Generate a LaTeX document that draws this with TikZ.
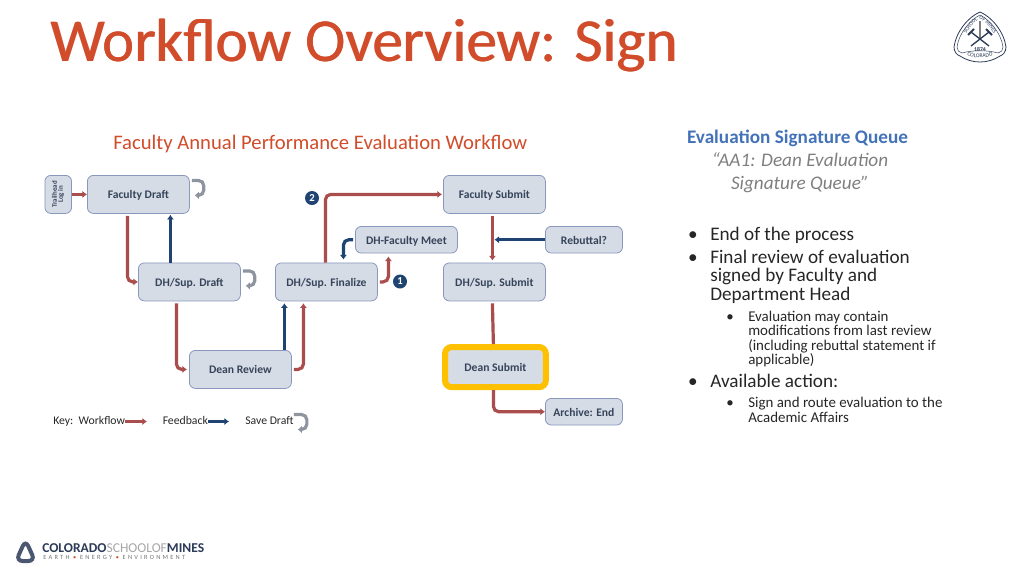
\documentclass[tikz,border=0pt]{standalone}
\usepackage{fontspec}
\setmainfont{Carlito}
\usepackage{xcolor}
\usetikzlibrary{arrows.meta,decorations.text}
\definecolor{titlered}{HTML}{D04C2A}
\definecolor{flowred}{HTML}{A94E4C}
\definecolor{backblue}{HTML}{1F4472}
\definecolor{boxfill}{HTML}{D5DCE6}
\definecolor{boxline}{HTML}{8A97BC}
\definecolor{boxtext}{HTML}{36445A}
\definecolor{savegray}{HTML}{8E959E}
\definecolor{headblue}{HTML}{4472B8}
\definecolor{bodygray}{HTML}{262626}
\definecolor{italgray}{HTML}{7F7F7F}
\definecolor{minesblue}{HTML}{2B3A57}
\definecolor{highlight}{HTML}{FFC000}
\tikzset{
	flowbox/.style={draw=boxline,fill=boxfill,rounded corners=4.5,line width=0.6pt,inner sep=0pt,
		text=boxtext,font=\fontsize{8.7}{10}\selectfont\bfseries,text height=6.5pt,text depth=0pt,anchor=north west},
	workflow/.style={draw=flowred,line width=2.4pt,rounded corners=4,-{Latex[length=3.5pt,width=5.5pt]}},
	feedback/.style={draw=backblue,line width=2.4pt,rounded corners=4,-{Latex[length=3.5pt,width=5.5pt]}},
	savedraft/.style={draw=savegray,line width=2.4pt,rounded corners=4,-{Latex[length=3pt,width=6pt]}},
	badge/.style={circle,fill=backblue,text=white,inner sep=0pt,minimum size=10.5pt,font=\fontsize{8}{8}\selectfont\bfseries},
	keytext/.style={anchor=west,inner sep=0pt,text=bodygray,text height=6pt,text depth=2pt,font=\fontsize{8.8}{10}\selectfont},
	panel/.style={anchor=base west,inner sep=0pt,text=bodygray,align=left},
	bigtext/.style={font=\fontsize{14.4}{13.9}\selectfont},
	smalltext/.style={font=\fontsize{11.2}{10.8}\selectfont},
}
\begin{document}
\begin{tikzpicture}[x=0.75pt,y=-0.75pt]
	\useasboundingbox (0,0) rectangle (1024,576);
	% heading
	\node[anchor=base west,inner sep=0pt,text=titlered,font=\fontsize{45.8}{50}\selectfont] (titleb) at (50.8,61) {Workflow Overview: Sign};
	\node[anchor=base west,inner sep=0pt,text=titlered,font=\fontsize{45.8}{50}\selectfont] (title) at (50,61) {Workflow Overview: Sign};
	\node[anchor=west,inner sep=0pt,text=titlered,font=\fontsize{15.5}{17}\selectfont] (subtitle) at (113,144) {Faculty Annual Performance Evaluation Workflow};
	% boxes
	\node[flowbox,minimum width=20pt,minimum height=28.5pt,text height=,text depth=,font=\fontsize{5.2}{6}\selectfont\bfseries] (login) at (44.5,175)
		{\rotatebox{90}{\begin{tabular}{@{}c@{}}Trailhead\\[-1.5pt]Log in\end{tabular}}};
	\node[flowbox,minimum width=76.5pt,minimum height=28.5pt] (fdraft) at (87,175) {Faculty Draft};
	\node[flowbox,minimum width=76.5pt,minimum height=28.5pt] (dhdraft) at (138,262.5) {DH/Sup. Draft};
	\node[flowbox,minimum width=76.5pt,minimum height=28.5pt] (dreview) at (189,350) {Dean Review};
	\node[flowbox,minimum width=76.5pt,minimum height=28.5pt] (dhfinal) at (275,262.5) {DH/Sup. Finalize};
	\node[flowbox,minimum width=76.5pt,minimum height=20pt] (meet) at (355,226) {DH-Faculty Meet};
	\node[flowbox,minimum width=76.5pt,minimum height=28.5pt] (fsubmit) at (443,175) {Faculty Submit};
	\node[flowbox,minimum width=57.8pt,minimum height=20pt] (rebuttal) at (545,226) {Rebuttal?};
	\node[flowbox,minimum width=76.5pt,minimum height=28.5pt] (dhsubmit) at (443,262.5) {DH/Sup. Submit};
	\node[flowbox,minimum width=75pt,minimum height=29.5pt,draw=none] (dsubmit) at (445,347) {Dean Submit};
	\draw[draw=highlight,line width=4.5pt,rounded corners=5] (dsubmit.north west) rectangle (dsubmit.south east);
	\node[flowbox,minimum width=57.8pt,minimum height=20pt] (archive) at (545,398) {Archive: End};
	% workflow arrows
	\draw[workflow] (login.east) -- (fdraft.west);
	\draw[workflow] ([shift={(-11,2)}]fdraft.south) |- (dhdraft.west);
	\draw[workflow] ([shift={(-13,2)}]dhdraft.south) |- ([shift={(-2,0)}]dreview.west);
	\draw[workflow] ([shift={(2,0)}]dreview.east) -| ([shift={(-23,2)}]dhfinal.south);
	\draw[workflow] ([shift={(-1,0)}]dhfinal.north) |- ([shift={(-1,0)}]fsubmit.west);
	\draw[workflow] ([shift={(2,0)}]dhfinal.east) -| ([shift={(-18,3)}]meet.south);
	\draw[workflow] ([shift={(-2,2)}]fsubmit.south) -- ([shift={(-2,-2)}]dhsubmit.north);
	\draw[workflow,-] ([shift={(-2,2)}]dhsubmit.south) -- ([shift={(-2,-3)}]dsubmit.north);
	\draw[workflow] ([shift={(-2,3)}]dsubmit.south) |- (archive.west);
	% feedback arrows
	\draw[feedback] ([shift={(-19,0)}]dhdraft.north) -- ([shift={(32,1)}]fdraft.south);
	\draw[feedback] ([shift={(44,0)}]dreview.north) -- ([shift={(-42,2)}]dhfinal.south);
	\draw[feedback] ([shift={(-2,0)}]meet.west) -| ([shift={(17,-3)}]dhfinal.north);
	\draw[feedback] (rebuttal.west) -- (rebuttal.west -| dhsubmit.north);
	% save draft hooks
	\draw[savedraft] ([shift={(2,-14)}]fdraft.east) -- ++(12,0) -- ++(0,15) -- ++(-9,0);
	\draw[savedraft] ([shift={(2,-11)}]dhdraft.east) -- ++(12,0) -- ++(0,15) -- ++(-9,0);
	% badges
	\node[badge] (one) at (400,281.5) {1};
	\node[badge] (two) at (312,198) {2};
	% key
	\node[keytext] (keyflow) at (53,421.5) {Key:\ \ Workflow};
	\coordinate (keyflowend) at (147,421.5);
	\draw[workflow,line width=2pt] (keyflow.east) -- (keyflowend);
	\node[keytext] (keyback) at (162.5,421.5) {Feedback};
	\coordinate (keybackend) at (229,421.5);
	\draw[feedback,line width=2pt] (keyback.east) -- (keybackend);
	\node[keytext] (keysave) at (245,421.5) {Save Draft};
	\draw[savedraft] ([shift={(0,-7)}]keysave.east) -- ++(13,0) -- ++(0,15) -- ++(-9,0);
	% right text
	\node[anchor=center,inner sep=0pt,text=headblue,font=\fontsize{14.4}{16}\selectfont\bfseries] (qhead) at (797.5,138) {Evaluation Signature Queue};
	\node[anchor=base,inner sep=0pt,align=center,text=italgray,font=\fontsize{14.4}{17.2}\selectfont\itshape] (qname) at (800,189.5)
		{“AA1: Dean Evaluation\\Signature Queue”};
	\node[panel,bigtext] (bulleta) at (710,240) {End of the process};
	\node[panel,bigtext] (bulletb) at (710,300.5) {Final review of evaluation\\signed by Faculty and\\Department Head};
	\node[panel,smalltext] (bulletc) at (748,364.5) {Evaluation may contain\\modifications from last review\\(including rebuttal statement if\\applicable)};
	\node[panel,bigtext] (bulletd) at (710,387) {Available action:};
	\node[panel,smalltext] (bullete) at (748,422) {Sign and route evaluation to the\\Academic Affairs};
	\foreach \px/\py/\sz in {693/240/14.4,693/263.5/14.4,730/321/11.2,693/387/14.4,730/407.5/11.2}
		\node[anchor=base,inner sep=0pt,text=bodygray,font=\fontsize{\sz}{\sz}\selectfont] at (\px,\py) {•};
	% seal
	\draw[minesblue,line width=0.6pt,fill=white] (980,12) .. controls (992,17) and (1004,32) .. (1006,47) .. controls (1006,52) and (1003,55) .. (1000,56)
		.. controls (988,64) and (972,64) .. (960,56) .. controls (957,55) and (954,52) .. (954,47) .. controls (956,32) and (968,17) .. (980,12);
	\draw[minesblue,line width=0.35pt] (980,15) .. controls (990,20) and (1001,33) .. (1003,47) .. controls (1003,50) and (1001,53) .. (998,53)
		.. controls (988,50) and (972,50) .. (962,53) .. controls (959,53) and (957,50) .. (957,47) .. controls (959,33) and (970,20) .. (980,15);
	\draw[gray,line width=0.9pt] (980,21) -- (980,38);
	\draw[minesblue,line width=1pt] (971,32) -- (989,46) (989,32) -- (971,46);
	\draw[minesblue,line width=1.4pt] (968,35) -- (974,29) (986,29) -- (992,35);
	\node[inner sep=0pt,text=minesblue,font=\fontsize{4.4}{5}\selectfont\bfseries] (year) at (980,49) {1874};
	\path[postaction={decorate},decoration={text along path,text align=center,
		text={|\fontsize{4}{5}\selectfont\color{minesblue}|SCHOOL OF MINES}}] (961,46) .. controls (967,29) and (974,22) .. (980,19) .. controls (986,22) and (993,29) .. (999,46);
	\path[postaction={decorate},decoration={text along path,text align=center,
		text={|\fontsize{4.2}{5}\selectfont\color{minesblue}|COLORADO}}] (964,54.5) .. controls (972,59) and (988,59) .. (996,54.5);
	% footer logo
	\draw[minesblue!85!white,line width=3pt,fill=white,rounded corners=5] (25.5,540) -- (35,561) -- (16,561) -- cycle;
	\node[anchor=west,inner sep=0pt,text=minesblue,font=\fontsize{10.15}{11}\selectfont\bfseries] (lname) at (42,548)
		{COLORADO{\color{gray!70}\mdseries SCHOOLOF}MINES};
	\node[anchor=west,inner sep=0pt,text=gray!90!black,font=\fontsize{4.8}{5}\selectfont\addfontfeature{LetterSpace=35}] (lmotto) at (43,557)
		{EARTH {\color{titlered}\textbullet} ENERGY {\color{titlered}\textbullet} ENVIRONMENT};
\end{tikzpicture}
\end{document}
